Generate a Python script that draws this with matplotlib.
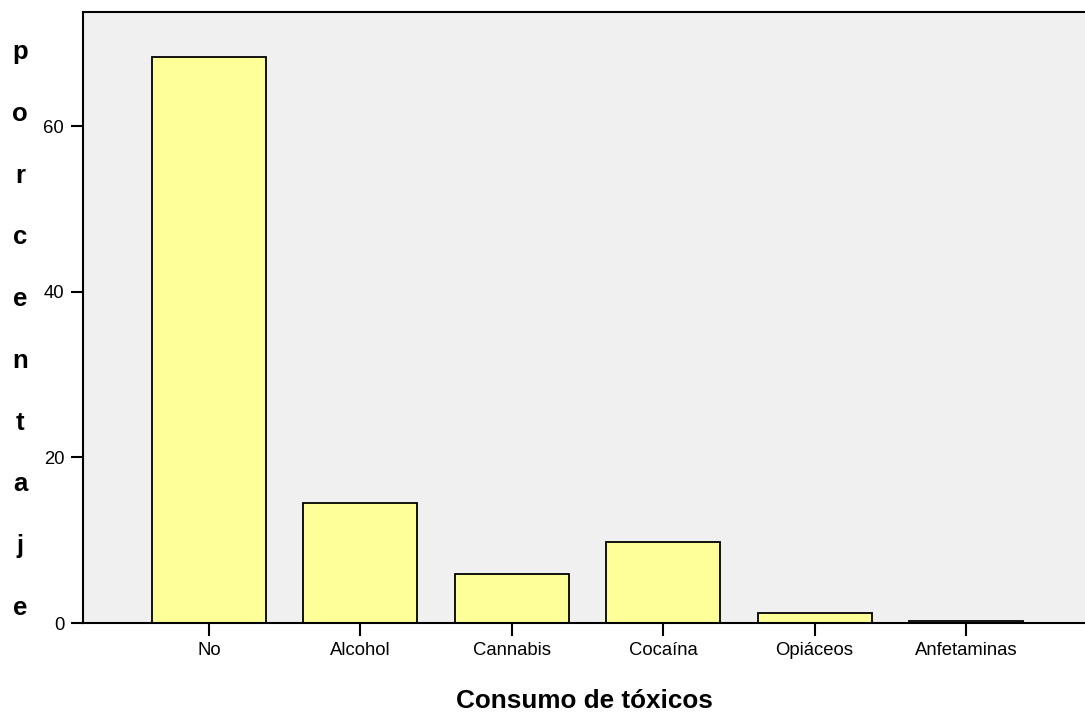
import matplotlib
matplotlib.use("Agg")
import matplotlib.pyplot as plt
import numpy as np

categories = ["No", "Alcohol", "Cannabis", "Cocaína", "Opiáceos", "Anfetaminas"]
porcentaje = [68.4, 14.5, 5.9, 9.8, 1.2, 0.3]
yticks = [0, 20, 40, 60]
ylabel = "porcentaje"
xlabel = "Consumo de tóxicos"

plt.rcParams["font.family"] = ["Liberation Sans", "DejaVu Sans"]

fig = plt.figure(figsize=(10.85, 7.15), dpi=100)
W, H = 1085, 715
ax = fig.add_axes([83 / W, 1 - 623 / H, 1 - 83 / W, (623 - 12) / H])
ax.set_facecolor("#f0f0f0")

x = np.arange(len(categories))
ax.bar(x, porcentaje, width=0.753, color="#ffff99", edgecolor="black", linewidth=1.3, zorder=2)

ax.set_xlim(-0.832, 5.786)
ax.set_ylim(0, 73.8)
ax.set_xticks(x)
ax.set_xticklabels(categories, fontsize=13.3)
ax.set_yticks(yticks)
ax.set_yticklabels([str(t) for t in yticks], fontsize=13.3)
ax.tick_params(axis="both", direction="out", length=9, width=1.5, color="black", pad=4.5)
for side in ["left", "top", "bottom"]:
    ax.spines[side].set_linewidth(1.5)
ax.spines["right"].set_visible(False)

ax.set_xlabel(xlabel, fontsize=18.8, fontweight="bold", labelpad=22)

# stacked vertical label, one letter per line
tops = np.linspace(52, 608, len(ylabel))
for ch, yp in zip(ylabel, tops):
    fig.text(20 / W, 1 - yp / H, ch, fontsize=18.5, fontweight="bold", ha="center", va="center")

fig.savefig("out.png", dpi=100)
